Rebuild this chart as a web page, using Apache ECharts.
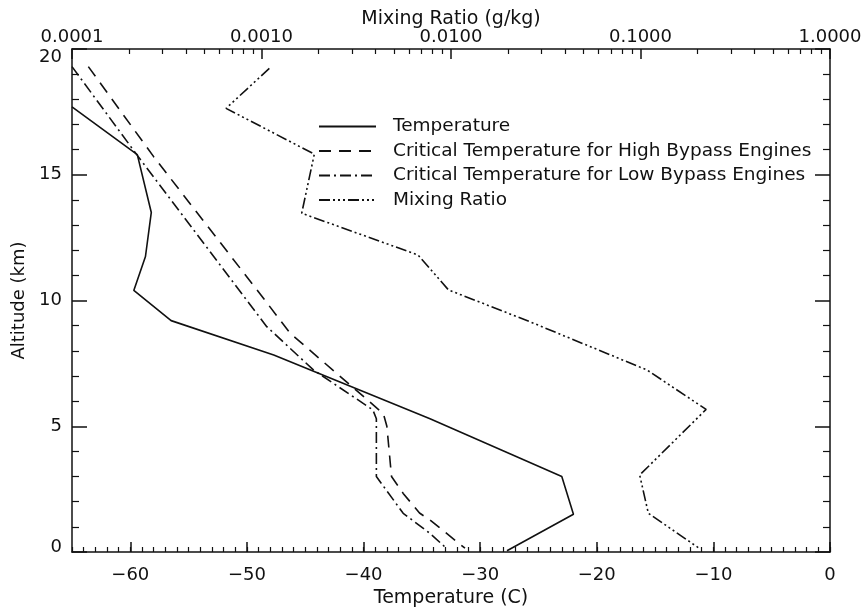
<!DOCTYPE html>
<html>
<head>
<meta charset="utf-8">
<title>Altitude profile</title>
<script src="https://cdn.jsdelivr.net/npm/echarts@6/dist/echarts.min.js"></script>
<style>
  html, body { margin: 0; padding: 0; background: #fff; }
  #chart { width: 863px; height: 608px; }
</style>
</head>
<body>
<div id="chart"></div>
<script>
// series names
const seriesNames = [
  'Temperature',
  'Critical Temperature for High Bypass Engines',
  'Critical Temperature for Low Bypass Engines',
  'Mixing Ratio'
]

// temperature profile (C) vs altitude (km)
const tempAlt = [17.7, 15.8, 13.5, 11.75, 10.4, 9.2, 7.83, 5.3, 3.9, 3.0, 1.5, 0.05]
const tempVal = [-65, -59.4, -58.2, -58.7, -59.7, -56.5, -47.7, -34.3, -27.4, -23.0, -22.0, -27.7]

// critical temperature, high bypass engines
const highAlt = [19.3, 15.72, 10.1, 8.7, 7.1, 5.5, 5.0, 3.0, 2.33, 1.55, 1.27, 0.15]
const highVal = [-63.6, -58.0, -48.6, -46.3, -42.3, -38.3, -38.0, -37.6, -36.6, -35.2, -34.3, -31.3]

// critical temperature, low bypass engines
const lowAlt = [19.3, 15.8, 10.0, 8.96, 7.24, 5.65, 5.3, 3.0, 1.54, 0.74, 0.15]
const lowVal = [-65, -59.45, -50.0, -48.3, -44.3, -39.2, -38.9, -38.9, -36.6, -34.3, -32.9]

// mixing ratio (g/kg) vs altitude (km)
const mixAlt = [19.23, 17.64, 15.82, 13.47, 11.81, 10.42, 9.16, 7.24, 5.67, 3.06, 1.54, 0.15]
const mixVal = [0.0011, 0.00065, 0.0019, 0.00163, 0.0067, 0.0097, 0.026, 0.108, 0.222, 0.099, 0.110, 0.204]

// tick labels
const tempTicks = [-60, -50, -40, -30, -20, -10, 0]
const mixTicks = [0.0001, 0.001, 0.01, 0.1, 1]
const mixMinor = []
for (let d = 0; d < 4; d++) {
  for (let k = 2; k <= 9; k++) mixMinor.push(k * mixTicks[d])
}

const FONT = 'DejaVu Sans'
const INK = '#111'
const axisLine = { show: true, onZero: false, lineStyle: { color: INK, width: 1.5 } }
const noLabel = { show: false }
const noLine = { show: false, onZero: false }

const pairs = (xs, ys) => xs.map((x, i) => [x, ys[i]])

const chart = echarts.init(document.getElementById('chart'))
chart.setOption({
  animation: false,
  textStyle: { fontFamily: FONT, color: INK },
  grid: { left: 72, right: 33, top: 49, bottom: 56, outerBoundsMode: 'none' },
  legend: {
    orient: 'vertical',
    left: 318,
    top: 117,
    padding: 0,
    itemWidth: 57,
    itemHeight: 14,
    itemGap: 5.5,
    data: seriesNames,
    itemStyle: { color: 'transparent', borderWidth: 0 },
    textStyle: { fontSize: 18.5, lineHeight: 14, color: INK, fontFamily: FONT, padding: [0, 0, 0, 12] }
  },
  xAxis: [
    {
      // bottom temperature axis, minor ticks + labels
      type: 'value', position: 'bottom', min: -65, max: 0, interval: 1,
      name: 'Temperature (C)', nameLocation: 'middle', nameGap: 36,
      nameTextStyle: { fontSize: 19, color: INK },
      axisLine,
      splitLine: { show: false },
      axisTick: { inside: true, length: 5, lineStyle: { color: INK, width: 1.2 } },
      axisLabel: {
        fontSize: 18, color: INK, margin: 14,
        formatter: v => (v % 10 === 0 ? String(v).replace('-', '\u2212') : '')
      }
    },
    {
      // bottom major ticks
      type: 'value', position: 'bottom', min: -65, max: 0,
      axisLine: noLine, axisLabel: noLabel, splitLine: { show: false },
      axisTick: { inside: true, length: 10, customValues: tempTicks, lineStyle: { color: INK, width: 1.5 } }
    },
    {
      // top mixing ratio axis
      type: 'log', logBase: 10, position: 'top', min: 0.0001, max: 1,
      name: 'Mixing Ratio (g/kg)', nameLocation: 'middle', nameGap: 20, nameMoveOverlap: false,
      nameTextStyle: { fontSize: 19, color: INK },
      axisLine,
      splitLine: { show: false },
      axisTick: { inside: true, length: 10, customValues: mixTicks, lineStyle: { color: INK, width: 1.5 } },
      axisLabel: { fontSize: 18, color: INK, margin: 3, customValues: mixTicks, formatter: v => v.toFixed(4) }
    },
    {
      // top minor ticks
      type: 'log', logBase: 10, position: 'top', min: 0.0001, max: 1,
      axisLine: noLine, axisLabel: noLabel, splitLine: { show: false },
      axisTick: { inside: true, length: 5, customValues: mixMinor, lineStyle: { color: INK, width: 1.2 } }
    }
  ],
  yAxis: [
    {
      type: 'value', position: 'left', min: 0, max: 20, interval: 5,
      name: 'Altitude (km)', nameLocation: 'middle', nameGap: 44, nameRotate: 90,
      nameTextStyle: { fontSize: 18, color: INK },
      axisLine,
      splitLine: { show: false },
      axisTick: { inside: true, length: 15, lineStyle: { color: INK, width: 1.5 } },
      minorTick: { show: true, splitNumber: 5, length: 7, lineStyle: { color: INK, width: 1.2 } },
      minorSplitLine: { show: false },
      axisLabel: {
        fontSize: 18, color: INK, margin: 10,
        // nudge the end labels off the corners, as in the original
        formatter: v => (v === 20 ? '{hi|20}' : v === 0 ? '{lo|0}' : String(v)),
        rich: {
          hi: { fontSize: 18, color: INK, padding: [16, 0, 0, 0] },
          lo: { fontSize: 18, color: INK, padding: [0, 0, 10, 0] }
        }
      }
    },
    {
      type: 'value', position: 'right', min: 0, max: 20, interval: 5,
      axisLine,
      splitLine: { show: false },
      axisTick: { inside: true, length: 15, lineStyle: { color: INK, width: 1.5 } },
      minorTick: { show: true, splitNumber: 5, length: 7, lineStyle: { color: INK, width: 1.2 } },
      axisLabel: noLabel
    }
  ],
  series: [
    {
      name: seriesNames[0], type: 'line', xAxisIndex: 0, yAxisIndex: 0,
      data: pairs(tempVal, tempAlt), symbol: 'none', itemStyle: { color: INK },
      lineStyle: { color: INK, width: 1.6, type: 'solid' }
    },
    {
      name: seriesNames[1], type: 'line', xAxisIndex: 0, yAxisIndex: 0,
      data: pairs(highVal, highAlt), symbol: 'none', itemStyle: { color: INK },
      lineStyle: { color: INK, width: 1.6, type: [12, 8] }
    },
    {
      name: seriesNames[2], type: 'line', xAxisIndex: 0, yAxisIndex: 0,
      data: pairs(lowVal, lowAlt), symbol: 'none', itemStyle: { color: INK },
      lineStyle: { color: INK, width: 1.6, type: [11, 4, 2, 4] }
    },
    {
      name: seriesNames[3], type: 'line', xAxisIndex: 2, yAxisIndex: 0,
      data: pairs(mixVal, mixAlt), symbol: 'none', itemStyle: { color: INK },
      lineStyle: { color: INK, width: 1.6, type: [11, 3, 2, 3, 2, 3, 2, 3] }
    }
  ]
})
</script>
</body>
</html>
